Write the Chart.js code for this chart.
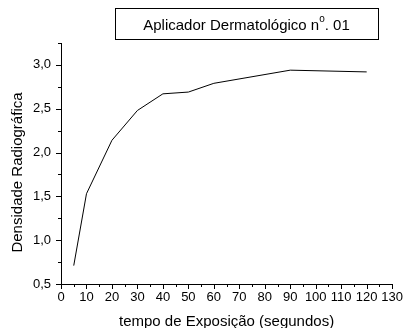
<!DOCTYPE html>
<html>
<head>
<meta charset="utf-8">
<script src="https://cdn.jsdelivr.net/npm/chart.js@4/dist/chart.umd.min.js"></script>
<style>
  html, body { margin: 0; padding: 0; background: #fff; }
  #wrap { width: 409px; height: 328px; }
</style>
</head>
<body>
<div id="wrap"><canvas id="grafico" width="409" height="328"></canvas></div>
<script>
// dados
var tempos = [5, 10, 20, 30, 40, 50, 60, 90, 120];
var densidades = [0.71, 1.53, 2.14, 2.48, 2.67, 2.69, 2.79, 2.94, 2.92];
var ticksX = [0, 10, 20, 30, 40, 50, 60, 70, 80, 90, 100, 110, 120, 130];
var ticksY = [0.5, 1.0, 1.5, 2.0, 2.5, 3.0];
var titulo = 'Aplicador Dermatológico n';
var tituloFim = '. 01';
var tituloY = 'Densidade Radiográfica';

var fonte = "'Liberation Sans', Arial, sans-serif";

var caixaTitulo = {
    id: 'caixaTitulo',
    afterDraw: function(chart) {
        var ctx = chart.ctx;
        ctx.save();
        ctx.strokeStyle = '#000';
        ctx.lineWidth = 1;
        ctx.strokeRect(115.5, 8.5, 263, 31);
        ctx.fillStyle = '#000';
        ctx.textBaseline = 'alphabetic';
        ctx.font = '15px ' + fonte;
        var w1 = ctx.measureText(titulo).width;
        ctx.font = '10px ' + fonte;
        var w2 = ctx.measureText('o').width;
        ctx.font = '15px ' + fonte;
        var w3 = ctx.measureText(tituloFim).width;
        var x0 = 246.5 - (w1 + w2 + w3) / 2;
        ctx.fillText(titulo, x0, 30);
        ctx.font = '10px ' + fonte;
        ctx.fillText('o', x0 + w1, 22);
        ctx.font = '15px ' + fonte;
        ctx.fillText(tituloFim, x0 + w1 + w2, 30);

        // titulo do eixo y (um pouco abaixo do centro, como no original)
        ctx.save();
        ctx.translate(22, 172.5);
        ctx.rotate(-Math.PI / 2);
        ctx.textAlign = 'center';
        ctx.font = '15px ' + fonte;
        ctx.fillText(tituloY, 0, 0);
        ctx.restore();

        // marcas dos eixos (maiores e menores)
        var sx = chart.scales.x, sy = chart.scales.y;
        var base = chart.chartArea.bottom, esq = chart.chartArea.left;
        ctx.beginPath();
        for (var v = sx.min; v <= sx.max + 0.001; v += 5) {
            var px = Math.round(sx.getPixelForValue(v)) + 0.5;
            ctx.moveTo(px, base);
            ctx.lineTo(px, base + (v % 10 === 0 ? 5 : 3));
        }
        for (var u = 0.5; u <= sy.max + 0.001; u += 0.25) {
            var py = Math.round(sy.getPixelForValue(u)) + 0.5;
            ctx.moveTo(esq, py);
            ctx.lineTo(esq - (Math.abs(u * 2 - Math.round(u * 2)) < 0.01 ? 5 : 3), py);
        }
        ctx.stroke();
        ctx.restore();
    }
};

var contexto = document.getElementById('grafico').getContext('2d');
new Chart(contexto, {
    type: 'line',
    data: {
        datasets: [{
            data: tempos.map(function(t, i) { return { x: t, y: densidades[i] }; }),
            borderColor: '#000',
            borderWidth: 1,
            pointRadius: 0,
            fill: false,
            tension: 0
        }]
    },
    options: {
        responsive: false,
        animation: false,
        layout: { padding: { top: 43, right: 11, left: 0, bottom: 0 } },
        plugins: {
            legend: { display: false },
            tooltip: { enabled: false }
        },
        scales: {
            x: {
                type: 'linear',
                min: 0,
                max: 130,
                afterBuildTicks: function(s) { s.ticks = ticksX.map(function(v) { return { value: v }; }); },
                afterFit: function(s) { s.height = 44; },
                border: { display: true, color: '#000', width: 1 },
                grid: { display: true, drawOnChartArea: false, drawTicks: false },
                ticks: {
                    color: '#000',
                    padding: 6,
                    maxRotation: 0,
                    autoSkip: false,
                    font: { family: fonte, size: 13 }
                },
                title: {
                    display: true,
                    text: 'tempo de Exposição (segundos)',
                    color: '#000',
                    font: { family: fonte, size: 15 },
                    padding: { top: 0, bottom: -3 }
                }
            },
            y: {
                type: 'linear',
                min: 0.5,
                max: 3.25,
                afterBuildTicks: function(s) { s.ticks = ticksY.map(function(v) { return { value: v }; }); },
                afterFit: function(s) { s.width = 61; },
                border: { display: true, color: '#000', width: 1 },
                grid: { display: true, drawOnChartArea: false, drawTicks: false },
                ticks: {
                    color: '#000',
                    padding: 10,
                    autoSkip: false,
                    font: { family: fonte, size: 13 },
                    callback: function(v) { return v.toFixed(1).replace('.', ','); }
                },
                title: { display: false }
            }
        }
    },
    plugins: [caixaTitulo]
});
</script>
</body>
</html>
